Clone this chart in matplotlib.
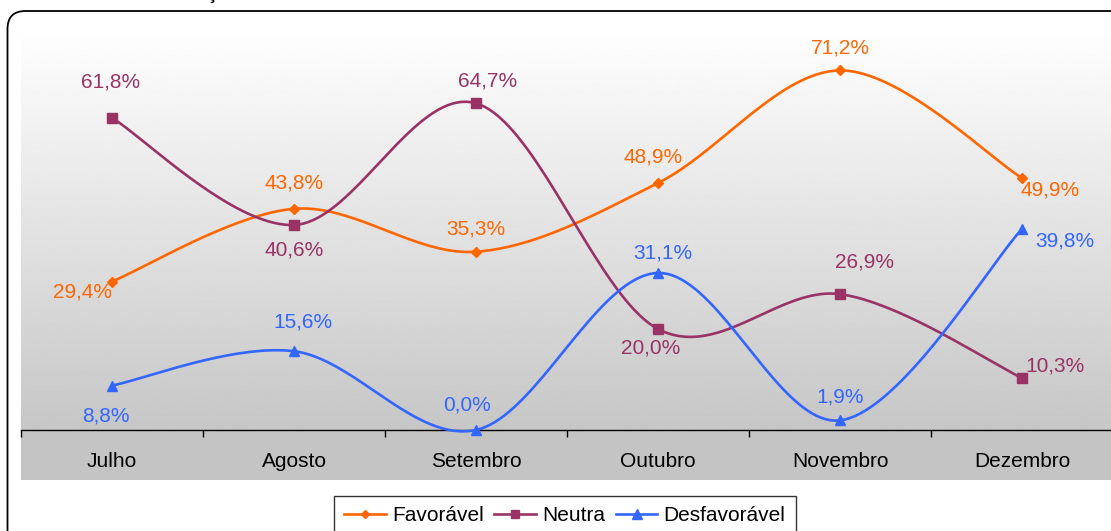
import numpy as np
import matplotlib
matplotlib.use("Agg")
import matplotlib.pyplot as plt
from matplotlib.patches import FancyBboxPatch, Rectangle
from matplotlib.lines import Line2D

plt.rcParams["font.family"] = ["Liberation Sans", "DejaVu Sans"]

# ---- data ----
meses = ["Julho", "Agosto", "Setembro", "Outubro", "Novembro", "Dezembro"]
favoravel = [29.4, 43.8, 35.3, 48.9, 71.2, 49.9]
neutra = [61.8, 40.6, 64.7, 20.0, 26.9, 10.3]
desfavoravel = [8.8, 15.6, 0.0, 31.1, 1.9, 39.8]

# ---- style ----
ORANGE = "#FF6600"
PURPLE = "#993366"
BLUE = "#3366FF"
W, H = 1111, 531

# label offsets (pixels) for each point
off_fav = [(-29, -10), (0, 26), (0, 23), (-5, 26), (0, 22), (28, -12)]
off_neu = [(-1, 36), (0, -25), (12, 22), (-7, -19), (25, 32), (33, 12)]
off_des = [(-6, -30), (9, 29), (-9, 25), (5, 20), (0, 23), (43, -12)]


def excel_smooth(x, y, n=40):
    """Bezier smoothing like spreadsheet 'smoothed line' (Catmull-Rom, 1/6)."""
    p = np.column_stack([x, y]).astype(float)
    m = len(p)
    t = np.linspace(0, 1, n)[:, None]
    out = []
    for i in range(m - 1):
        p0 = p[max(i - 1, 0)]; p1 = p[i]; p2 = p[i + 1]; p3 = p[min(i + 2, m - 1)]
        c1 = p1 + (p2 - p0) / 6
        c2 = p2 - (p3 - p1) / 6
        seg = ((1 - t) ** 3) * p1 + 3 * ((1 - t) ** 2) * t * c1 + 3 * (1 - t) * t ** 2 * c2 + t ** 3 * p2
        out.append(seg if i == 0 else seg[1:])
    s = np.vstack(out)
    return s[:, 0], s[:, 1]


fig = plt.figure(figsize=(W / 100, H / 100), dpi=100)
fig.patch.set_facecolor("white")

# background layer in pixel coords
bg = fig.add_axes([0, 0, 1, 1], zorder=0)
bg.set_xlim(0, W); bg.set_ylim(H, 0); bg.axis("off")
bg.add_patch(Rectangle((21, 430), W, 50, fc="#c4c4c4", ec="none"))
bg.add_patch(FancyBboxPatch((7.5, 11), W + 40, H + 40,
                            boxstyle="round,pad=0,rounding_size=18",
                            fc="none", ec="black", lw=1.3))
# bottom of the (cut off) title
bg.text(212, -1, "ç", fontsize=14, fontweight="bold", ha="center", va="baseline")

# main plot
ax = fig.add_axes([21 / W, (H - 430) / H, 1092 / W, 404 / H], zorder=1)
ax.set_xlim(-0.5, 5.5)
ax.set_ylim(0, 80)
grad = np.linspace(1.0, 0.0, 256)[:, None]
cols = 0xc6 / 255 + (1 - 0xc6 / 255) * grad
ax.imshow(np.repeat(cols, 2, axis=1), cmap="gray", vmin=0, vmax=1, aspect="auto",
          extent=(-0.5, 5.5, 0, 80), origin="upper", zorder=0, interpolation="bilinear")

xs = np.arange(len(meses))
series = [(favoravel, ORANGE, "D", 5.5, "Favorável", off_fav),
          (neutra, PURPLE, "s", 6.5, "Neutra", off_neu),
          (desfavoravel, BLUE, "^", 7.5, "Desfavorável", off_des)]
handles = []
for vals, c, mk, ms, name, offs in series:
    sx, sy = excel_smooth(xs, vals)
    ax.plot(sx, sy, color=c, lw=1.9, zorder=3, clip_on=False)
    ax.plot(xs, vals, ls="none", marker=mk, ms=ms, color=c, zorder=4, clip_on=False)
    for x, v, (dx, dy) in zip(xs, vals, offs):
        ax.annotate(f"{v:.1f}%".replace(".", ","), (x, v), xytext=(dx, dy),
                    textcoords="offset pixels", ha="center", va="center",
                    color=c, fontsize=15, zorder=5)
    handles.append(Line2D([], [], color=c, lw=1.9, marker=mk, ms=ms - 1, label=name))

for s in ["top", "right", "left"]:
    ax.spines[s].set_visible(False)
ax.spines["bottom"].set_linewidth(1.0)
ax.set_yticks([])
ax.set_xticks(xs)
ax.set_xticklabels(meses, fontsize=15)
ax.tick_params(axis="x", which="major", length=0, pad=16)
ax.set_xticks(np.arange(-0.5, 6.0, 1.0), minor=True)
ax.tick_params(axis="x", which="minor", length=5, width=1.0, direction="out")

leg = fig.legend(handles=handles, loc="upper center", ncol=3,
                 bbox_to_anchor=(565 / W, 1 - 496 / H), fontsize=15,
                 frameon=True, fancybox=False, edgecolor="black",
                 handlelength=2.0, handletextpad=0.3, columnspacing=0.5,
                 borderpad=0.5, borderaxespad=0)
leg.get_frame().set_linewidth(1.0)

fig.savefig("out.png", dpi=100, facecolor="white")
